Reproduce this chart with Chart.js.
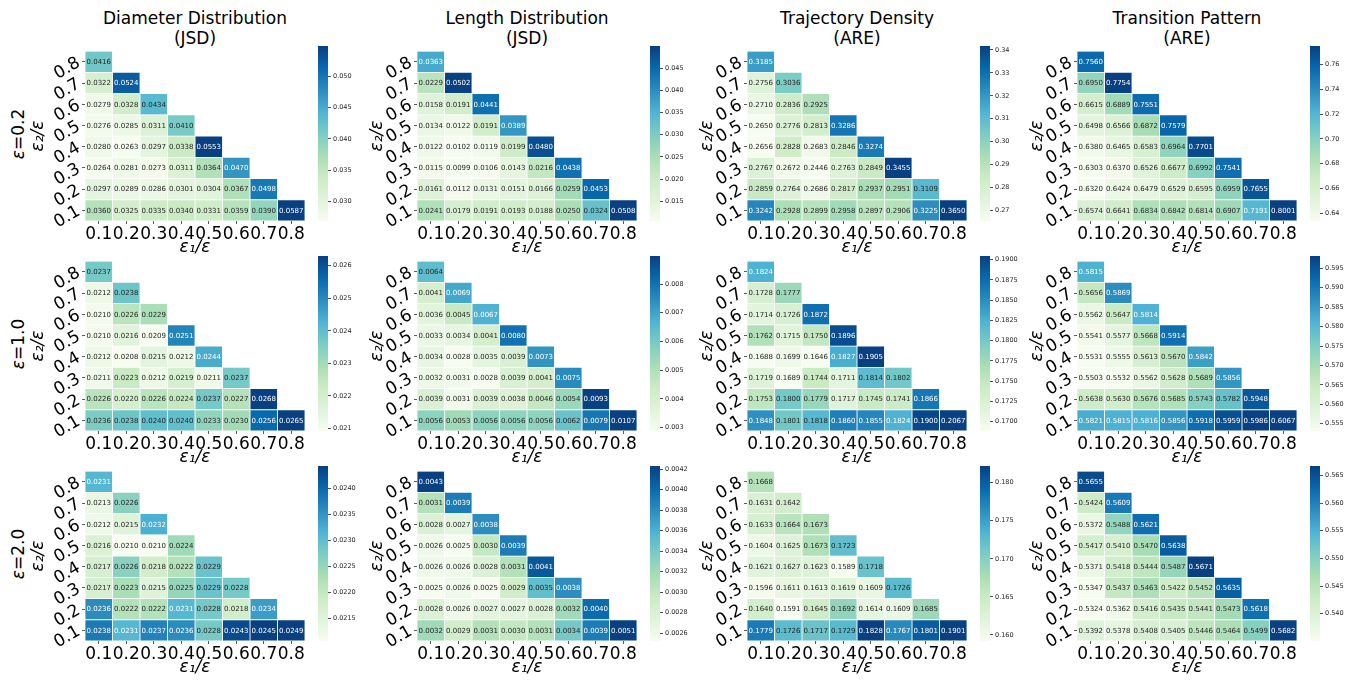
<!DOCTYPE html>
<html>
<head>
<meta charset="utf-8">
<script src="https://cdn.jsdelivr.net/npm/chart.js@4"></script>
<style>
  body { margin: 0; background: #fff; font-family: 'DejaVu Sans', sans-serif; }
  #fig { position: relative; width: 1351px; height: 681px; overflow: hidden; background: #fff; }
  #fig canvas { position: absolute; }
  .coltitle { position: absolute; width: 260px; text-align: center; font-size: 17px; line-height: 20px; color: #000; }
  .rowlabel { position: absolute; font-size: 17px; white-space: nowrap; color: #000;
    transform: translate(-50%, -50%) rotate(-90deg); }
</style>
</head>
<body>
<div id="fig"></div>
<script>
var FONT = "'DejaVu Sans', sans-serif";

// axis categories
var EPS1 = ['0.1', '0.2', '0.3', '0.4', '0.5', '0.6', '0.7', '0.8'];
var EPS2 = ['0.8', '0.7', '0.6', '0.5', '0.4', '0.3', '0.2', '0.1'];
var METRICS = ['Diameter Distribution', 'Length Distribution', 'Trajectory Density', 'Transition Pattern'];
var UNITS = ['(JSD)', '(JSD)', '(ARE)', '(ARE)'];
var EPSILONS = ['0.2', '1.0', '2.0'];

// rows go from eps2/eps = 0.8 (top) to 0.1 (bottom), columns eps1/eps = 0.1 ...
var diameter02 = [
  [0.0416],
  [0.0322, 0.0524],
  [0.0279, 0.0328, 0.0434],
  [0.0276, 0.0285, 0.0311, 0.0410],
  [0.0280, 0.0263, 0.0297, 0.0338, 0.0553],
  [0.0264, 0.0281, 0.0273, 0.0311, 0.0364, 0.0470],
  [0.0297, 0.0289, 0.0286, 0.0301, 0.0304, 0.0367, 0.0498],
  [0.0360, 0.0325, 0.0335, 0.0340, 0.0331, 0.0359, 0.0390, 0.0587]
];
var length02 = [
  [0.0363],
  [0.0229, 0.0502],
  [0.0158, 0.0191, 0.0441],
  [0.0134, 0.0122, 0.0191, 0.0389],
  [0.0122, 0.0102, 0.0119, 0.0199, 0.0480],
  [0.0115, 0.0099, 0.0106, 0.0143, 0.0216, 0.0438],
  [0.0161, 0.0112, 0.0131, 0.0151, 0.0166, 0.0259, 0.0453],
  [0.0241, 0.0179, 0.0191, 0.0193, 0.0188, 0.0250, 0.0324, 0.0508]
];
var trajectory02 = [
  [0.3185],
  [0.2756, 0.3036],
  [0.2710, 0.2836, 0.2925],
  [0.2650, 0.2776, 0.2813, 0.3286],
  [0.2656, 0.2828, 0.2683, 0.2846, 0.3274],
  [0.2767, 0.2672, 0.2446, 0.2763, 0.2849, 0.3455],
  [0.2859, 0.2764, 0.2686, 0.2817, 0.2937, 0.2951, 0.3109],
  [0.3242, 0.2928, 0.2899, 0.2958, 0.2897, 0.2906, 0.3225, 0.3650]
];
var transition02 = [
  [0.7560],
  [0.6950, 0.7754],
  [0.6615, 0.6889, 0.7551],
  [0.6498, 0.6566, 0.6872, 0.7579],
  [0.6380, 0.6465, 0.6583, 0.6964, 0.7701],
  [0.6303, 0.6370, 0.6526, 0.6677, 0.6992, 0.7541],
  [0.6320, 0.6424, 0.6479, 0.6529, 0.6595, 0.6959, 0.7655],
  [0.6574, 0.6641, 0.6834, 0.6842, 0.6814, 0.6907, 0.7191, 0.8001]
];
var diameter10 = [
  [0.0237],
  [0.0212, 0.0238],
  [0.0210, 0.0226, 0.0229],
  [0.0210, 0.0216, 0.0209, 0.0251],
  [0.0212, 0.0208, 0.0215, 0.0212, 0.0244],
  [0.0211, 0.0223, 0.0212, 0.0219, 0.0211, 0.0237],
  [0.0226, 0.0220, 0.0226, 0.0224, 0.0237, 0.0227, 0.0268],
  [0.0236, 0.0238, 0.0240, 0.0240, 0.0233, 0.0230, 0.0256, 0.0265]
];
var length10 = [
  [0.0064],
  [0.0041, 0.0069],
  [0.0036, 0.0045, 0.0067],
  [0.0033, 0.0034, 0.0041, 0.0080],
  [0.0034, 0.0028, 0.0035, 0.0039, 0.0073],
  [0.0032, 0.0031, 0.0028, 0.0039, 0.0041, 0.0075],
  [0.0039, 0.0031, 0.0039, 0.0038, 0.0046, 0.0054, 0.0093],
  [0.0056, 0.0053, 0.0056, 0.0056, 0.0056, 0.0062, 0.0079, 0.0107]
];
var trajectory10 = [
  [0.1824],
  [0.1728, 0.1777],
  [0.1714, 0.1726, 0.1872],
  [0.1762, 0.1715, 0.1750, 0.1896],
  [0.1688, 0.1699, 0.1646, 0.1827, 0.1905],
  [0.1719, 0.1689, 0.1744, 0.1711, 0.1814, 0.1802],
  [0.1753, 0.1800, 0.1779, 0.1717, 0.1745, 0.1741, 0.1866],
  [0.1848, 0.1801, 0.1818, 0.1860, 0.1855, 0.1824, 0.1900, 0.2067]
];
var transition10 = [
  [0.5815],
  [0.5656, 0.5869],
  [0.5562, 0.5647, 0.5814],
  [0.5541, 0.5577, 0.5668, 0.5914],
  [0.5531, 0.5555, 0.5613, 0.5670, 0.5842],
  [0.5503, 0.5532, 0.5562, 0.5628, 0.5689, 0.5856],
  [0.5638, 0.5630, 0.5676, 0.5685, 0.5743, 0.5782, 0.5948],
  [0.5821, 0.5815, 0.5816, 0.5856, 0.5918, 0.5959, 0.5986, 0.6067]
];
var diameter20 = [
  [0.0231],
  [0.0213, 0.0226],
  [0.0212, 0.0215, 0.0232],
  [0.0216, 0.0210, 0.0210, 0.0224],
  [0.0217, 0.0226, 0.0218, 0.0222, 0.0229],
  [0.0217, 0.0223, 0.0215, 0.0225, 0.0229, 0.0228],
  [0.0236, 0.0222, 0.0222, 0.0231, 0.0228, 0.0218, 0.0234],
  [0.0238, 0.0231, 0.0237, 0.0236, 0.0228, 0.0243, 0.0245, 0.0249]
];
var length20 = [
  [0.0043],
  [0.0031, 0.0039],
  [0.0028, 0.0027, 0.0038],
  [0.0026, 0.0025, 0.0030, 0.0039],
  [0.0026, 0.0026, 0.0028, 0.0031, 0.0041],
  [0.0025, 0.0026, 0.0025, 0.0029, 0.0035, 0.0038],
  [0.0028, 0.0026, 0.0027, 0.0027, 0.0028, 0.0032, 0.0040],
  [0.0032, 0.0029, 0.0031, 0.0030, 0.0031, 0.0034, 0.0039, 0.0051]
];
var trajectory20 = [
  [0.1668],
  [0.1631, 0.1642],
  [0.1633, 0.1664, 0.1673],
  [0.1604, 0.1625, 0.1673, 0.1723],
  [0.1621, 0.1627, 0.1623, 0.1589, 0.1718],
  [0.1596, 0.1611, 0.1613, 0.1619, 0.1609, 0.1726],
  [0.1640, 0.1591, 0.1645, 0.1692, 0.1614, 0.1609, 0.1685],
  [0.1779, 0.1726, 0.1717, 0.1729, 0.1828, 0.1767, 0.1801, 0.1901]
];
var transition20 = [
  [0.5655],
  [0.5424, 0.5609],
  [0.5372, 0.5488, 0.5621],
  [0.5417, 0.5410, 0.5470, 0.5638],
  [0.5371, 0.5418, 0.5444, 0.5487, 0.5671],
  [0.5347, 0.5437, 0.5463, 0.5422, 0.5452, 0.5635],
  [0.5324, 0.5362, 0.5416, 0.5435, 0.5441, 0.5473, 0.5618],
  [0.5392, 0.5378, 0.5408, 0.5405, 0.5446, 0.5464, 0.5499, 0.5682]
];

var panels = [
  [diameter02, length02, trajectory02, transition02],
  [diameter10, length10, trajectory10, transition10],
  [diameter20, length20, trajectory20, transition20]
];

// colour bar range and tick spacing, one per panel (row-major)
var cbMin  = [0.02685, 0.01058, 0.2655, 0.6338, 0.02092, 0.00288, 0.16885, 0.55311, 0.02106, 0.002525, 0.15921, 0.53506];
var cbMax  = [0.05485, 0.04995, 0.3417, 0.7748, 0.0263, 0.00898, 0.19045, 0.59818, 0.02443, 0.00423, 0.18219, 0.56669];
var cbStep = [0.005, 0.005, 0.01, 0.02, 0.001, 0.001, 0.0025, 0.005, 0.0005, 0.0002, 0.005, 0.005];
var cbDec  = [3, 3, 2, 2, 3, 3, 4, 3, 4, 4, 3, 3];

// GnBu
var GNBU = ['#f7fcf0', '#e0f3db', '#ccebc5', '#a8ddb5', '#7bccc4', '#4eb3d3', '#2b8cbe', '#0868ac', '#084081'];

// layout
var CELL_LEFT = [85, 417, 747, 1077];
var CELL_TOP = [46, 256, 466];
var CELL_W = 220, CELL_H = 175;
var YAX_W = 70;
var YTITLE_PAD = [13, 20, 20, 20];

function hexRgb(h) {
  return [parseInt(h.substr(1, 2), 16), parseInt(h.substr(3, 2), 16), parseInt(h.substr(5, 2), 16)];
}
var GNBU_RGB = GNBU.map(hexRgb);

function gnbu(t) {
  t = Math.max(0, Math.min(1, t));
  var s = t * 8, i = Math.min(7, Math.floor(s)), f = s - i;
  var a = GNBU_RGB[i], b = GNBU_RGB[i + 1];
  return [0, 1, 2].map(function(k) { return a[k] + (b[k] - a[k]) * f; });
}

function rgbStr(c) { return 'rgb(' + c.map(Math.round).join(',') + ')'; }

function textColor(c) {
  var lin = c.map(function(v) {
    v = v / 255;
    return v <= 0.03928 ? v / 12.92 : Math.pow((v + 0.055) / 1.055, 2.4);
  });
  var lum = 0.2126 * lin[0] + 0.7152 * lin[1] + 0.0722 * lin[2];
  return lum > 0.408 ? '#262626' : '#ffffff';
}

function cellTextPlugin(vals, lo, hi) {
  return {
    id: 'cellText',
    afterDatasetsDraw: function(chart) {
      var ctx = chart.ctx;
      ctx.save();
      ctx.font = '7px ' + FONT;
      ctx.textAlign = 'center';
      ctx.textBaseline = 'middle';
      chart.data.datasets.forEach(function(ds, i) {
        chart.getDatasetMeta(i).data.forEach(function(el, j) {
          if (ds.data[j] == null) return;
          var v = vals[j][i];
          var p = el.getProps(['x', 'y', 'base'], true);
          ctx.fillStyle = textColor(gnbu((v - lo) / (hi - lo)));
          ctx.fillText(v.toFixed(4), (p.x + p.base) / 2, p.y + 0.5);
        });
      });
      ctx.restore();
    }
  };
}

var fig = document.getElementById('fig');

function addCanvas(left, top, w, h) {
  var c = document.createElement('canvas');
  c.width = w; c.height = h;
  c.style.left = left + 'px'; c.style.top = top + 'px';
  c.style.width = w + 'px'; c.style.height = h + 'px';
  fig.appendChild(c);
  return c;
}

function drawHeatmap(r, c) {
  var k = r * 4 + c;
  var vals = panels[r][c];
  var lo = cbMin[k], hi = cbMax[k];
  var datasets = [];
  EPS1.forEach(function(_, i) {
    datasets.push({
      data: EPS2.map(function(_, j) { return j >= i ? [i, i + 1] : null; }),
      backgroundColor: function(ctx) {
        var row = vals[ctx.dataIndex];
        var v = row ? row[i] : undefined;
        return v == null ? 'rgba(0,0,0,0)' : rgbStr(gnbu((v - lo) / (hi - lo)));
      },
      borderColor: '#ffffff',
      borderWidth: 0.75,
      borderSkipped: false,
      barPercentage: 1,
      categoryPercentage: 1,
      grouped: false
    });
  });

  var cv = addCanvas(CELL_LEFT[c] - YAX_W, CELL_TOP[r] - 8, YAX_W + CELL_W + 4, 8 + CELL_H + 42);
  new Chart(cv, {
    type: 'bar',
    data: { labels: EPS2, datasets: datasets },
    options: {
      indexAxis: 'y',
      responsive: false,
      animation: false,
      layout: { padding: { left: 0, top: 8, right: 4, bottom: 0 } },
      plugins: { legend: { display: false }, tooltip: { enabled: false } },
      scales: {
        x: {
          type: 'linear', min: 0, max: 8, position: 'bottom',
          afterBuildTicks: function(s) { s.ticks = EPS1.map(function(_, i) { return { value: i + 0.5 }; }); },
          afterFit: function(s) { s.height = 42; },
          ticks: {
            autoSkip: false, maxRotation: 0, minRotation: 0, padding: 0, color: '#000',
            font: { size: 17, family: FONT },
            callback: function(v, idx) { return EPS1[idx]; }
          },
          grid: { drawOnChartArea: false, drawTicks: true, tickLength: 3, color: '#333', lineWidth: 0.8 },
          border: { display: false },
          title: {
            display: true, text: 'ε₁/ε', color: '#000',
            font: { size: 17, family: FONT, style: 'italic' },
            padding: { top: 0, bottom: 5 }
          }
        },
        y: {
          position: 'left', offset: true,
          afterFit: function(s) { s.width = YAX_W; },
          ticks: {
            autoSkip: false, minRotation: 30, maxRotation: 30, padding: 3, color: '#000',
            font: { size: 17, family: FONT }
          },
          grid: { drawOnChartArea: false, offset: false, drawTicks: true, tickLength: 3, color: '#333', lineWidth: 0.8 },
          border: { display: false },
          title: {
            display: true, text: 'ε₂/ε', color: '#000',
            font: { size: 17, family: FONT, style: 'italic' },
            padding: { top: YTITLE_PAD[c], bottom: 0 }
          }
        }
      }
    },
    plugins: [cellTextPlugin(vals, lo, hi)]
  });
}

function drawColorbar(r, c) {
  var k = r * 4 + c;
  var lo = cbMin[k], hi = cbMax[k], step = cbStep[k], dec = cbDec[k];
  var ticks = [];
  for (var t = Math.ceil(lo / step - 1e-6); t * step <= hi + 1e-12; t++) ticks.push(+(t * step).toFixed(6));

  var cv = addCanvas(CELL_LEFT[c] + CELL_W + 13, CELL_TOP[r] - 6, 10 + 36, CELL_H + 12);
  new Chart(cv, {
    type: 'bar',
    data: {
      labels: [''],
      datasets: [{
        data: [[lo, hi]],
        backgroundColor: function(ctx) {
          var a = ctx.chart.chartArea;
          if (!a) return GNBU[4];
          var g = ctx.chart.ctx.createLinearGradient(0, a.bottom, 0, a.top);
          GNBU.forEach(function(col, n) { g.addColorStop(n / 8, col); });
          return g;
        },
        borderWidth: 0,
        barPercentage: 1,
        categoryPercentage: 1
      }]
    },
    options: {
      responsive: false,
      animation: false,
      layout: { padding: { left: 0, top: 6, right: 0, bottom: 6 } },
      plugins: { legend: { display: false }, tooltip: { enabled: false } },
      scales: {
        x: { display: false },
        y: {
          position: 'right', min: lo, max: hi,
          afterBuildTicks: function(s) { s.ticks = ticks.map(function(v) { return { value: v }; }); },
          afterFit: function(s) { s.width = 36; },
          ticks: {
            color: '#262626', padding: 2, font: { size: 6.5, family: FONT },
            callback: function(v) { return Number(v).toFixed(dec); }
          },
          grid: { drawOnChartArea: false, drawTicks: true, tickLength: 3, color: '#262626', lineWidth: 0.8 },
          border: { display: false }
        }
      }
    }
  });
}

// column titles
METRICS.forEach(function(m, c) {
  var d = document.createElement('div');
  d.className = 'coltitle';
  d.style.left = (CELL_LEFT[c] + CELL_W / 2 - 130) + 'px';
  d.style.top = '8px';
  d.innerHTML = m + '<br>' + UNITS[c];
  fig.appendChild(d);
});

// row labels
EPSILONS.forEach(function(e, r) {
  var d = document.createElement('div');
  d.className = 'rowlabel';
  d.style.left = '18px';
  d.style.top = (CELL_TOP[r] + CELL_H / 2) + 'px';
  d.innerHTML = '<i>ε</i>=' + e;
  fig.appendChild(d);
});

for (var r = 0; r < 3; r++) {
  for (var c = 0; c < 4; c++) {
    drawHeatmap(r, c);
    drawColorbar(r, c);
  }
}
</script>
</body>
</html>
